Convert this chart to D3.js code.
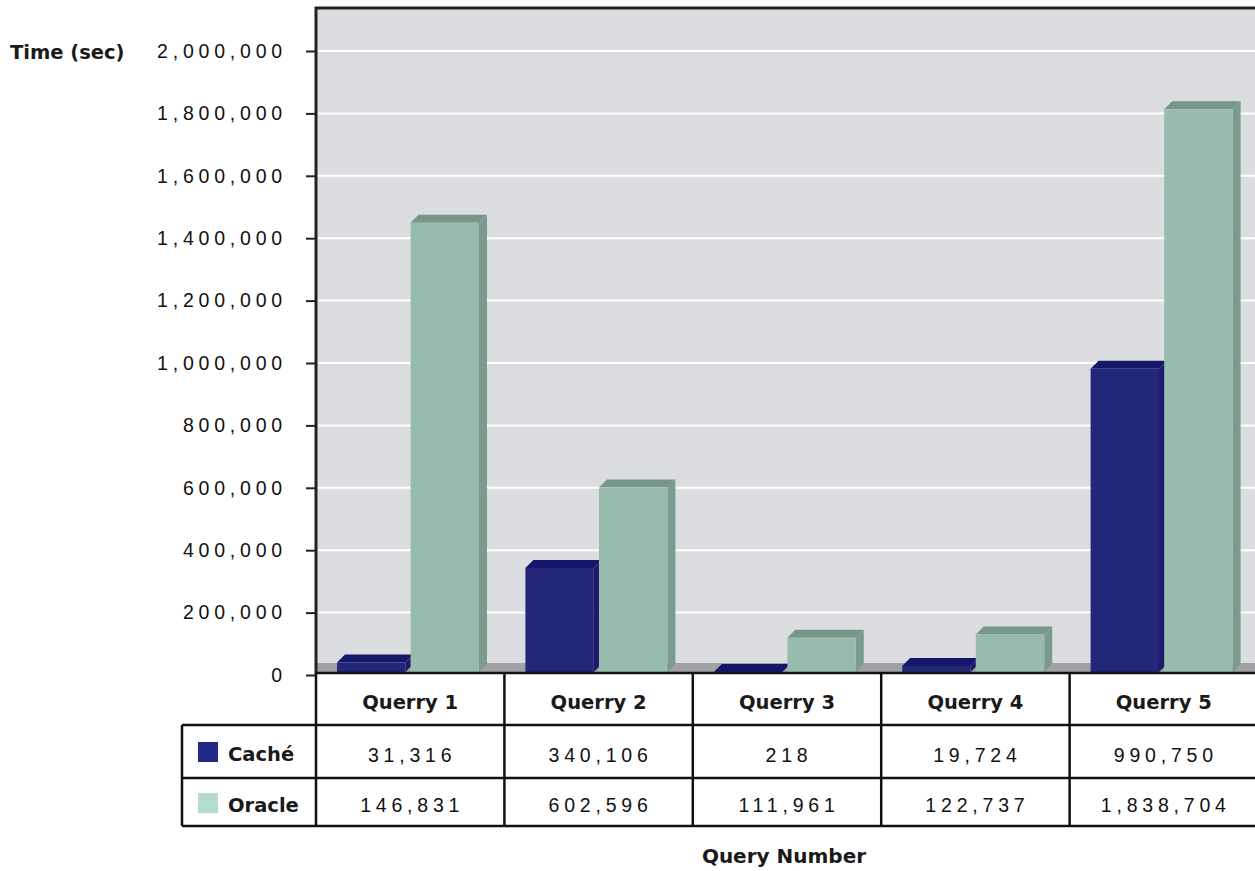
<!DOCTYPE html>
<html>
<head>
<meta charset="utf-8">
<script src="https://cdn.jsdelivr.net/npm/d3@7"></script>
<style>
  body { margin: 0; background: #fff; }
  svg { display: block; }
  .num { font-family: "Liberation Sans", Arial, sans-serif; font-size: 19.5px; letter-spacing: 4.8px; fill: #111; }
  .lab { font-family: "DejaVu Sans", Verdana, sans-serif; font-weight: bold; font-size: 19.5px; fill: #1a1a1a; }
</style>
</head>
<body>
<svg width="1255" height="871"></svg>
<script>
// data
var queries = ['Querry 1', 'Querry 2', 'Querry 3', 'Querry 4', 'Querry 5'];
var series = ['Caché', 'Oracle'];
var cacheValues = [31316, 340106, 218, 19724, 990750];
var oracleValues = [1468310, 602596, 111961, 122737, 1838704];   // Q1 bar read from its height
var cacheLabels = ['31,316', '340,106', '218', '19,724', '990,750'];
var oracleLabels = ['146,831', '602,596', '111,961', '122,737', '1,838,704'];
var yTicks = [0, 200000, 400000, 600000, 800000, 1000000, 1200000, 1400000, 1600000, 1800000, 2000000];

var svg = d3.select('svg');
var left = 316, right = 1258, plotTop = 8, floorY = 672, d = 8;

var x = d3.scaleBand().domain(queries).range([left, right]).padding(0);
var xs = d3.scaleBand().domain(series).range([21, 163]).paddingInner(0.07);
var yBack = d3.scaleLinear().domain([0, 2000000]).range([675, 51]);
var yFront = d3.scaleLinear().domain([0, 2000000]).range([floorY, 60]);

var front = { 'Caché': '#22277a', 'Oracle': '#97bcad' };
var topC = { 'Caché': '#15176a', 'Oracle': '#76978a' };
var sideC = { 'Caché': '#1a1b6c', 'Oracle': '#7a9b8e' };
var swatch = { 'Caché': '#232a86', 'Oracle': '#b3dccb' };

// back wall + floor
svg.append('rect').attr('x', left).attr('y', plotTop).attr('width', right - left).attr('height', 663 - plotTop).attr('fill', '#dcdde0');
svg.append('g').selectAll('line').data(yTicks.filter(function (t) { return t > 0; }))
  .enter().append('line')
  .attr('x1', left + 2).attr('x2', right)
  .attr('y1', function (t) { return yBack(t); }).attr('y2', function (t) { return yBack(t); })
  .attr('stroke', '#fff').attr('stroke-width', 2);
svg.append('rect').attr('x', left).attr('y', 663).attr('width', right - left).attr('height', floorY - 663).attr('fill', '#a0a1a5');

// y axis
var ax = svg.append('g').attr('transform', 'translate(' + left + ',0)')
  .call(d3.axisLeft(yBack).tickValues(yTicks).tickSize(10).tickPadding(19).tickFormat(d3.format(',')));
ax.select('.domain').remove();
ax.selectAll('.tick line').attr('stroke', '#222').attr('stroke-width', 2);
ax.selectAll('.tick text').attr('class', 'num').attr('font-family', null).attr('font-size', null).attr('fill', null);

// bars
var rows = [];
queries.forEach(function (q, i) {
  rows.push({ q: q, s: 'Caché', v: cacheValues[i] });
  rows.push({ q: q, s: 'Oracle', v: oracleValues[i] });
});
var bars = svg.append('g').selectAll('g').data(rows).enter().append('g');
function geo(r) {
  var x0 = x(r.q) + xs(r.s), x1 = x0 + xs.bandwidth(), yt = yFront(r.v);
  return { x0: x0, x1: x1, yt: yt };
}
bars.append('polygon').attr('fill', function (r) { return sideC[r.s]; })
  .attr('points', function (r) { var g = geo(r);
    return [[g.x1, g.yt], [g.x1 + d, g.yt - d], [g.x1 + d, floorY - d], [g.x1, floorY]].join(' '); });
bars.append('polygon').attr('fill', function (r) { return topC[r.s]; })
  .attr('points', function (r) { var g = geo(r);
    return [[g.x0, g.yt], [g.x0 + d, g.yt - d], [g.x1 + d, g.yt - d], [g.x1, g.yt]].join(' '); });
bars.append('rect').attr('fill', function (r) { return front[r.s]; })
  .attr('x', function (r) { return geo(r).x0; })
  .attr('y', function (r) { return geo(r).yt; })
  .attr('width', xs.bandwidth())
  .attr('height', function (r) { return floorY - geo(r).yt; });

// frame
svg.append('path').attr('d', 'M' + left + ',' + 674 + 'V' + plotTop + 'H' + 1260)
  .attr('fill', 'none').attr('stroke', '#222').attr('stroke-width', 3);

// data table
var tbl = svg.append('g').attr('stroke', '#111').attr('stroke-width', 2.5);
tbl.append('line').attr('x1', left).attr('x2', right).attr('y1', 673).attr('y2', 673);
[725, 778, 826].forEach(function (yy) {
  tbl.append('line').attr('x1', 182).attr('x2', right).attr('y1', yy).attr('y2', yy);
});
tbl.append('line').attr('x1', 182).attr('x2', 182).attr('y1', 725).attr('y2', 826);
queries.forEach(function (q) {
  tbl.append('line').attr('x1', x(q)).attr('x2', x(q)).attr('y1', 673).attr('y2', 826);
});

svg.append('g').selectAll('text').data(queries).enter().append('text')
  .attr('class', 'lab').attr('text-anchor', 'middle')
  .attr('x', function (q) { return x(q) + x.bandwidth() / 2; }).attr('y', 709)
  .text(function (q) { return q; });

[cacheLabels, oracleLabels].forEach(function (labels, k) {
  svg.append('g').selectAll('text').data(labels).enter().append('text')
    .attr('class', 'num').attr('text-anchor', 'middle')
    .attr('x', function (t, i) { return x(queries[i]) + x.bandwidth() / 2 + 2; })
    .attr('y', k === 0 ? 762 : 812)
    .text(function (t) { return t; });
});

var leg = svg.append('g').selectAll('g').data(series).enter().append('g')
  .attr('transform', function (s, i) { return 'translate(0,' + (i === 0 ? 742 : 793) + ')'; });
leg.append('rect').attr('x', 198).attr('width', 20).attr('height', 20).attr('fill', function (s) { return swatch[s]; });
leg.append('text').attr('class', 'lab').attr('x', 228).attr('y', 19).text(function (s) { return s; });

// titles
svg.append('text').attr('class', 'lab').attr('x', 10).attr('y', 59).text('Time (sec)');
svg.append('text').attr('class', 'lab').attr('text-anchor', 'middle').attr('x', 784).attr('y', 863).style('font-size', '20px').text('Query Number');
</script>
</body>
</html>
